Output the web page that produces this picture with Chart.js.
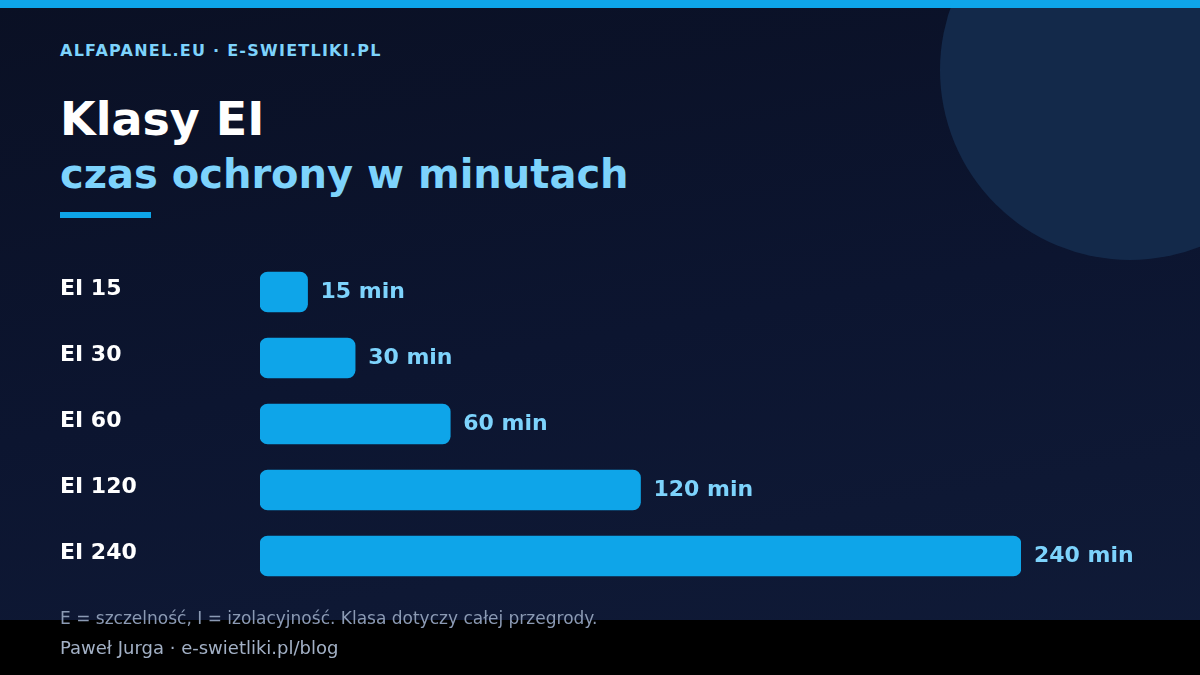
<!DOCTYPE html>
<html lang="pl">
<head>
<meta charset="utf-8">
<title>Klasy EI</title>
<script src="https://cdn.jsdelivr.net/npm/chart.js@4.4.1/dist/chart.umd.min.js"></script>
<style>
	html, body {
		margin: 0;
		padding: 0;
	}
	body {
		width: 1200px;
		height: 675px;
		position: relative;
		overflow: hidden;
		background: linear-gradient(170deg, #0a1024 0%, #0c1530 50%, #101b38 100%);
		font-family: 'DejaVu Sans', sans-serif;
	}
	.topbar {
		position: absolute;
		left: 0;
		top: 0;
		width: 1200px;
		height: 8px;
		background: #0ea5e9;
	}
	.circle {
		position: absolute;
		left: 940px;
		top: -120px;
		width: 380px;
		height: 380px;
		border-radius: 50%;
		background: #13294a;
	}
	.footer {
		position: absolute;
		left: 0;
		top: 620px;
		width: 1200px;
		height: 55px;
		background: #000;
	}
	.txt {
		position: absolute;
		left: 60px;
		white-space: nowrap;
	}
	.brand {
		top: 41px;
		font-size: 16px;
		font-weight: bold;
		letter-spacing: 1.25px;
		color: #7dd3fc;
	}
	.title {
		top: 92px;
		font-size: 46px;
		font-weight: bold;
		color: #ffffff;
	}
	.subtitle {
		top: 151px;
		font-size: 40px;
		font-weight: bold;
		color: #7dd3fc;
	}
	.rule {
		position: absolute;
		left: 60px;
		top: 212px;
		width: 91px;
		height: 6px;
		background: #0ea5e9;
	}
	.note {
		top: 608px;
		font-size: 17px;
		color: #8b9ab4;
	}
	.author {
		top: 637px;
		font-size: 18px;
		color: #a3b1c6;
	}
	#chart {
		position: absolute;
		left: 0;
		top: 0;
	}
</style>
</head>
<body>
<div class="circle"></div>
<div class="topbar"></div>
<div class="footer"></div>
<div class="txt brand">ALFAPANEL.EU · E-SWIETLIKI.PL</div>
<div class="txt title">Klasy EI</div>
<div class="txt subtitle">czas ochrony w minutach</div>
<div class="rule"></div>
<canvas id="chart" width="1200" height="675"></canvas>
<div class="txt note">E = szczelność, I = izolacyjność. Klasa dotyczy całej przegrody.</div>
<div class="txt author">Paweł Jurga · e-swietliki.pl/blog</div>
<script>
const classes = ['EI 15', 'EI 30', 'EI 60', 'EI 120', 'EI 240'];
const minutes = [15, 30, 60, 120, 240];
const valueLabels = ['15 min', '30 min', '60 min', '120 min', '240 min'];

// podpisy "xx min" za końcem słupka
const valueLabelPlugin = {
	id: 'valueLabels',
	afterDatasetsDraw(chart) {
		const ctx = chart.ctx;
		const meta = chart.getDatasetMeta(0);
		ctx.save();
		ctx.font = 'bold 22px "DejaVu Sans"';
		ctx.fillStyle = '#7dd3fc';
		ctx.textAlign = 'left';
		ctx.textBaseline = 'middle';
		meta.data.forEach(function (bar, i) {
			ctx.fillText(valueLabels[i], bar.x + 13, bar.y);
		});
		ctx.restore();
	},
};

new Chart(document.getElementById('chart'), {
	type: 'bar',
	data: {
		labels: classes,
		datasets: [
			{
				data: minutes,
				backgroundColor: '#0ea5e9',
				borderRadius: 8,
				borderSkipped: false,
				barThickness: 40,
			},
		],
	},
	options: {
		indexAxis: 'y',
		responsive: false,
		animation: false,
		layout: {
			padding: { left: 60, top: 259, bottom: 86, right: 179 },
		},
		scales: {
			x: {
				display: false,
				min: 0,
				max: 240,
			},
			y: {
				afterFit: function (axis) {
					axis.width = 200;
				},
				border: { display: false },
				grid: { display: false, drawTicks: false },
				ticks: {
					crossAlign: 'far',
					color: '#ffffff',
					padding: 0,
					labelOffset: -3,
					font: { family: 'DejaVu Sans', size: 22, weight: 'bold' },
				},
			},
		},
		plugins: {
			legend: { display: false },
			tooltip: { enabled: false },
		},
	},
	plugins: [valueLabelPlugin],
});
</script>
</body>
</html>
